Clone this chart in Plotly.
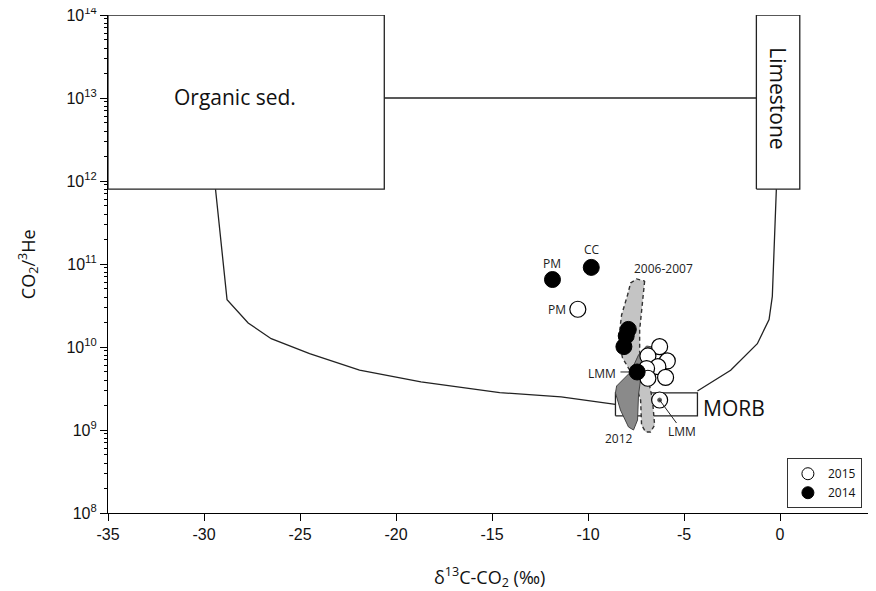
import plotly.graph_objects as go

# ---------------- data ----------------
# 2014 samples (filled)
d13c_2014 = [-11.85, -9.83, -7.90, -8.01, -8.13, -7.44]
ratio_2014 = [6.5e10, 9.1e10, 1.63e10, 1.36e10, 1.01e10, 5.0e9]
# 2015 samples (open)
d13c_2015 = [-10.53, -6.27, -6.88, -5.87, -6.36, -6.95, -5.96, -6.88, -6.27]
ratio_2015 = [2.85e10, 1.01e10, 7.8e9, 6.8e9, 5.8e9, 5.5e9, 4.3e9, 4.2e9, 2.3e9]

# end-member boxes (x0, x1, y0, y1)
organic_box = [-35.0, -20.61, 8.0e11, 1.0e14]
limestone_box = [-1.23, 1.03, 8.0e11, 1.0e14]
morb_box = [-8.57, -4.30, 1.48e9, 2.8e9]
tie_line_x = [-20.61, -1.23]
tie_line_y = [1.0e13, 1.0e13]

# mixing curves
mix_org_x = [-29.4, -28.8, -27.7, -26.5, -24.5, -21.9, -18.7, -14.6, -11.4, -8.57]
mix_org_logy = [11.90, 10.57, 10.29, 10.10, 9.92, 9.72, 9.58, 9.45, 9.40, 9.31]
mix_lim_x = [-4.30, -2.57, -1.18, -0.57, -0.40, -0.31, -0.19]
mix_lim_logy = [9.47, 9.72, 10.04, 10.33, 10.61, 11.21, 11.90]

# fields
field_0607_x = [-7.05, -7.16, -7.31, -7.31, -6.85, -6.64, -6.53, -6.74, -7.00, -7.21,
                -7.26, -7.68, -8.20, -8.41, -8.25, -7.94, -7.78, -7.47, -7.05]
field_0607_logy = [10.795, 10.506, 10.205, 9.94, 9.602, 9.361, 9.06, 8.976, 8.976, 9.06,
                   9.361, 9.663, 9.867, 10.084, 10.386, 10.627, 10.771, 10.82, 10.795]
field_2012_x = [-8.51, -8.20, -7.78, -7.37, -6.95, -6.64, -6.85, -7.21, -7.37, -7.42,
                -7.63, -7.89, -8.31, -8.57, -8.51]
field_2012_logy = [9.53, 9.602, 9.699, 9.904, 10.012, 10.0, 9.904, 9.699, 9.422, 9.12,
                   9.0, 9.036, 9.241, 9.446, 9.53]

x_ticks = [-35, -30, -25, -20, -15, -10, -5, 0, 5]
y_ticks = [1e8, 1e9, 1e10, 1e11, 1e12, 1e13, 1e14]
y_ticktext = ["10<sup>%d</sup>" % e for e in range(8, 15)]

# ---------------- figure ----------------
fig = go.Figure()

def box_xy(b):
    x0, x1, y0, y1 = b
    return [x0, x1, x1, x0, x0], [y0, y0, y1, y1, y0]

line_style = dict(color="#222222", width=1.3)

for b in (organic_box, limestone_box, morb_box):
    bx, by = box_xy(b)
    fig.add_trace(go.Scatter(x=bx, y=by, mode="lines", line=line_style,
                             showlegend=False, hoverinfo="skip"))

fig.add_trace(go.Scatter(x=tie_line_x, y=tie_line_y, mode="lines", line=line_style,
                         showlegend=False, hoverinfo="skip"))
fig.add_trace(go.Scatter(x=mix_org_x, y=[10 ** v for v in mix_org_logy], mode="lines",
                         line=line_style, showlegend=False, hoverinfo="skip"))
fig.add_trace(go.Scatter(x=mix_lim_x, y=[10 ** v for v in mix_lim_logy], mode="lines",
                         line=line_style, showlegend=False, hoverinfo="skip"))

# 2006-2007 field (light grey, dashed outline)
fig.add_trace(go.Scatter(x=field_0607_x, y=[10 ** v for v in field_0607_logy], mode="lines",
                         fill="toself", fillcolor="#c4c4c4",
                         line=dict(color="#333333", width=1.4, dash="4px,3px"),
                         showlegend=False, hoverinfo="skip"))
# 2012 field (dark grey)
fig.add_trace(go.Scatter(x=field_2012_x, y=[10 ** v for v in field_2012_logy], mode="lines",
                         fill="toself", fillcolor="#8a8a8a",
                         line=dict(color="#444444", width=1),
                         showlegend=False, hoverinfo="skip"))

# leader lines
fig.add_trace(go.Scatter(x=[-8.31, -7.84], y=[10 ** 9.699, 10 ** 9.699], mode="lines",
                         line=dict(color="#222222", width=1), showlegend=False, hoverinfo="skip"))

# samples
fig.add_trace(go.Scatter(x=d13c_2015, y=ratio_2015, mode="markers",
                         marker=dict(size=16, color="white", line=dict(color="black", width=1.2)),
                         showlegend=False))
fig.add_trace(go.Scatter(x=d13c_2014, y=ratio_2014, mode="markers",
                         marker=dict(size=16, color="black", line=dict(color="black", width=1)),
                         showlegend=False))
fig.add_trace(go.Scatter(x=[-6.27, -5.39], y=[10 ** 9.361, 10 ** 9.084], mode="lines+markers",
                         line=dict(color="#222222", width=1),
                         marker=dict(size=[4, 0], color="black"),
                         showlegend=False, hoverinfo="skip"))

# legend entries
fig.add_trace(go.Scatter(x=[None], y=[None], mode="markers", name="2015",
                         marker=dict(size=12, color="white", line=dict(color="black", width=1))))
fig.add_trace(go.Scatter(x=[None], y=[None], mode="markers", name="2014",
                         marker=dict(size=12, color="black", line=dict(color="black", width=1))))

lab_font = dict(family="Open Sans", size=12, color="#222222")
big_font = dict(family="Open Sans", size=21, color="#111111")
title_font = dict(family="Open Sans", size=18, color="#111111")
annots = [
    dict(x=-28.38, y=13.01, text="Organic sed.", font=big_font),
    dict(x=-0.12, y=13.0, text="Limestone", font=big_font, textangle=90),
    dict(x=-4.13, y=9.265, text="MORB", font=big_font, xanchor="left"),
    dict(x=-11.87, y=11.008, text="PM", font=lab_font),
    dict(x=-9.78, y=11.169, text="CC", font=lab_font),
    dict(x=-11.64, y=10.454, text="PM", font=lab_font),
    dict(x=-6.05, y=10.948, text="2006-2007", font=lab_font),
    dict(x=-9.26, y=9.675, text="LMM", font=lab_font),
    dict(x=-8.39, y=8.90, text="2012", font=lab_font),
    dict(x=-5.09, y=8.98, text="LMM", font=lab_font),
]
for a in annots:
    a.update(xref="x", yref="y", showarrow=False)
annots += [
    dict(x=0.497, y=-0.1285, xref="paper", yref="paper", showarrow=False,
         xanchor="center", yanchor="middle",
         text="δ<sup>13</sup>C-CO<sub>2</sub> (‰)", font=title_font),
    dict(x=-0.104, y=0.5, xref="paper", yref="paper", showarrow=False, textangle=-90,
         xanchor="center", yanchor="middle",
         text="CO<sub>2</sub>/<sup>3</sup>He", font=title_font),
]
fig.update_layout(annotations=annots)

tick_font = dict(family="Liberation Sans, Arial", size=16, color="#111111")
fig.update_xaxes(range=[-35, 5], tickvals=x_ticks, ticktext=[str(v) for v in x_ticks],
                 showline=True, linecolor="black", linewidth=1.2,
                 ticks="outside", ticklen=7, tickcolor="black", tickwidth=1.2,
                 showgrid=False, zeroline=False, tickfont=tick_font, automargin=False,
                 ticklabeloverflow="allow")
fig.update_yaxes(type="log", range=[8, 14], tickvals=y_ticks, ticktext=y_ticktext,
                 showline=True, linecolor="black", linewidth=1.2,
                 ticks="outside", ticklen=7, tickcolor="black", tickwidth=1.2,
                 minor=dict(ticks="outside", ticklen=3, tickcolor="black", dtick="D1", showgrid=False),
                 showgrid=False, zeroline=False, tickfont=tick_font, automargin=False,
                 ticklabeloverflow="allow")

# page body adds an 8 px offset, so margins compensate for it
fig.update_layout(
    width=876, height=591,
    margin=dict(l=100, r=8, t=7, b=86, autoexpand=False),
    paper_bgcolor="white", plot_bgcolor="white",
    showlegend=True,
    legend=dict(x=0.884, y=0.11, xanchor="left", yanchor="top",
                bordercolor="#333333", borderwidth=1, bgcolor="white",
                font=dict(family="Open Sans", size=12, color="#111111"),
                itemwidth=30, tracegroupgap=0),
)

fig.write_html("out.html")
